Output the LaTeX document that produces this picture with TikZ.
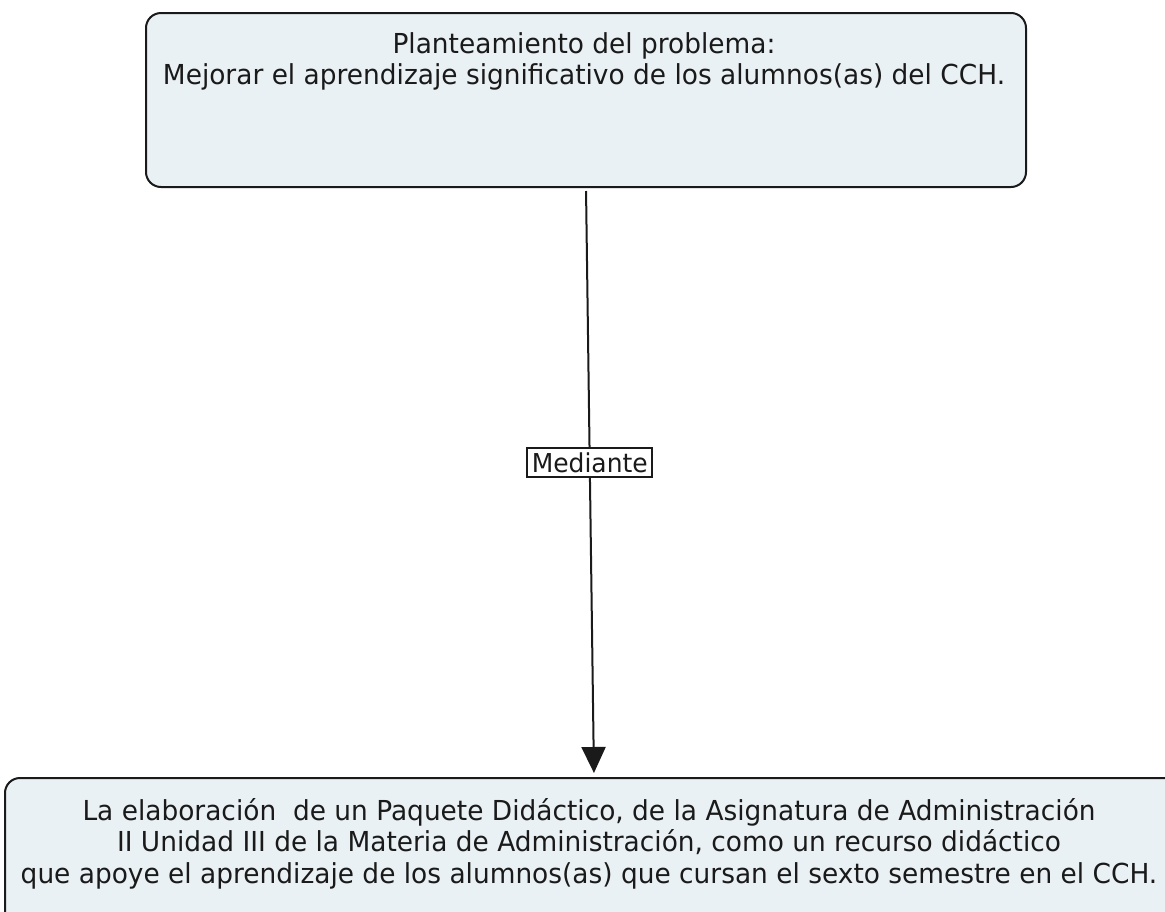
\documentclass[tikz,border=0pt]{standalone}
\usepackage{fontspec}
\setmainfont{DejaVu Sans}[FakeStretch=0.96]
\usetikzlibrary{arrows.meta}
\definecolor{boxfill}{HTML}{EAF1F4}
\definecolor{inkc}{HTML}{1A1A1A}
\begin{document}
\begin{tikzpicture}[x=1pt,y=-1pt,
  concept/.style={draw=inkc, line width=2pt, fill=boxfill, rounded corners=15pt, inner sep=0pt},
  ctext/.style={align=center, inner sep=0pt, text=inkc, font=\fontsize{27.5}{31.5}\selectfont},
  linklabel/.style={draw=inkc, line width=1.6pt, fill=white, inner sep=4.5pt, text=inkc, font=\fontsize{26}{30}\selectfont}]
\useasboundingbox (0,0) rectangle (1165,911);
\node[concept, minimum width=880pt, minimum height=174pt, anchor=north west] (top) at (145,12) {};
\node[ctext, anchor=north] (toptext) at (584,32) {Planteamiento del problema:\\Mejorar el aprendizaje significativo de los alumnos(as) del CCH.};
\node[concept, minimum width=1178pt, minimum height=150pt, anchor=north west] (bot) at (4,777) {};
\node[ctext, anchor=north] (bottext) at (589,798) {La elaboración\ \ de un Paquete Didáctico, de la Asignatura de Administración\\II Unidad III de la Materia de Administración, como un recurso didáctico\\que apoye el aprendizaje de los alumnos(as) que cursan el sexto semestre en el CCH.};
\draw[line width=2pt, draw=inkc, shorten <=3pt, shorten >=4pt, -{Triangle[length=26pt,width=24pt]}] (top.south) -- node[linklabel, pos=0.466] (lab) {Mediante} (bot.north);
\end{tikzpicture}
\end{document}
